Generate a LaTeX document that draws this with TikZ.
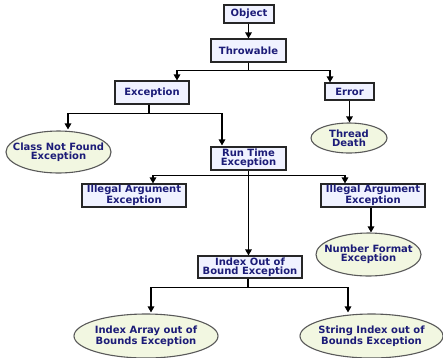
\documentclass[tikz,border=0pt]{standalone}
\usepackage{fontspec}
\setmainfont{DejaVu Sans}
\usetikzlibrary{arrows.meta,shapes.geometric,calc}
\definecolor{navy}{HTML}{1C1C78}
\definecolor{boxfill}{HTML}{F0F2FF}
\definecolor{ellfill}{HTML}{F2F7E1}
\begin{document}
\begin{tikzpicture}[x=1pt,y=-1pt,
  txt/.style={font=\bfseries\fontsize{10}{9.4}\selectfont, text=navy, align=center, inner sep=0pt},
  cls/.style={txt, draw=black!85, fill=boxfill, line width=1.1pt},
  leaf/.style={ellipse, draw=black!65, fill=ellfill, line width=1.1pt, inner sep=0pt},
  arr/.style={line width=1.3pt, -{Triangle[width=6.5pt,length=6pt]}},
  bus/.style={line width=1.3pt}]
\useasboundingbox (0,0) rectangle (443,357);
% class boxes
\node[cls, minimum width=50, minimum height=18] (obj) at (249,14) {Object};
\node[cls, minimum width=75, minimum height=23] (thr) at (248.5,50.5) {Throwable};
\node[cls, minimum width=74, minimum height=23] (exc) at (152,92.5) {Exception};
\node[cls, minimum width=49, minimum height=17] (err) at (349.5,91.5) {Error};
\node[cls, minimum width=75, minimum height=23] (rte) at (248.5,158.5) {Run Time\\Exception};
\node[cls, minimum width=104, minimum height=23] (iae1) at (134,195.5) {Illegal Argument\\Exception};
\node[cls, minimum width=104, minimum height=23] (iae2) at (373,195.5) {Illegal Argument\\Exception};
\node[cls, minimum width=104, minimum height=22] (iobe) at (250,267) {Index Out of\\Bound Exception};
% leaf ellipses
\node[leaf, minimum width=105, minimum height=42, label={[txt]center:Class Not Found\\Exception}] (cnf) at (58.5,152) {};
\node[leaf, minimum width=76, minimum height=30, label={[txt]center:Thread\\Death}] (td) at (349,138) {};
\node[leaf, minimum width=105, minimum height=43, label={[txt]center:Number Format\\Exception}] (nfe) at (368.5,254.5) {};
\node[leaf, minimum width=144, minimum height=44, label={[txt]center:Index Array out of\\Bounds Exception}] (iaoob) at (146,336) {};
\node[leaf, minimum width=143, minimum height=44, label={[txt]center:String Index out of\\Bounds Exception}] (sioob) at (371.5,336) {};
% connectors
\draw[arr] (obj.south -| thr.north) -- (thr.north);
\draw[arr] (thr.south) -- ++(0,8) -| ($(exc.north)+(25,0)$);
\draw[arr] (thr.south) -- ++(0,8) -| ($(err.north)+(-19.5,0)$);
\draw[arr] (err.south) -- (err.south |- td.north);
\draw[arr] ($(exc.south)+(-3,0)$) -- ++(0,9) -| ($(cnf.north)+(9.5,-1)$);
\draw[arr] ($(exc.south)+(-3,0)$) -- ++(0,9) -| ($(rte.north)+(-26.5,-1)$);
\draw[arr] (rte.south) -- (rte.south |- iobe.north);
\draw[arr] ($(rte.south)+(0,5)$) -| ($(iae1.north)+(19,0)$);
\draw[arr] ($(rte.south)+(0,5)$) -| ($(iae2.north)+(-28,0)$);
\draw[arr] ($(iae2.south)+(-2,0)$) -- ($(iae2.south |- nfe.north)+(-2,0)$);
\draw[arr] ($(iobe.south)+(-2,0)$) -- ++(0,9) -| ($(iaoob.north)+(5,-1)$);
\draw[arr] ($(iobe.south)+(-2,0)$) -- ++(0,9) -| ($(sioob.north)+(-23.5,-1)$);
\end{tikzpicture}
\end{document}
